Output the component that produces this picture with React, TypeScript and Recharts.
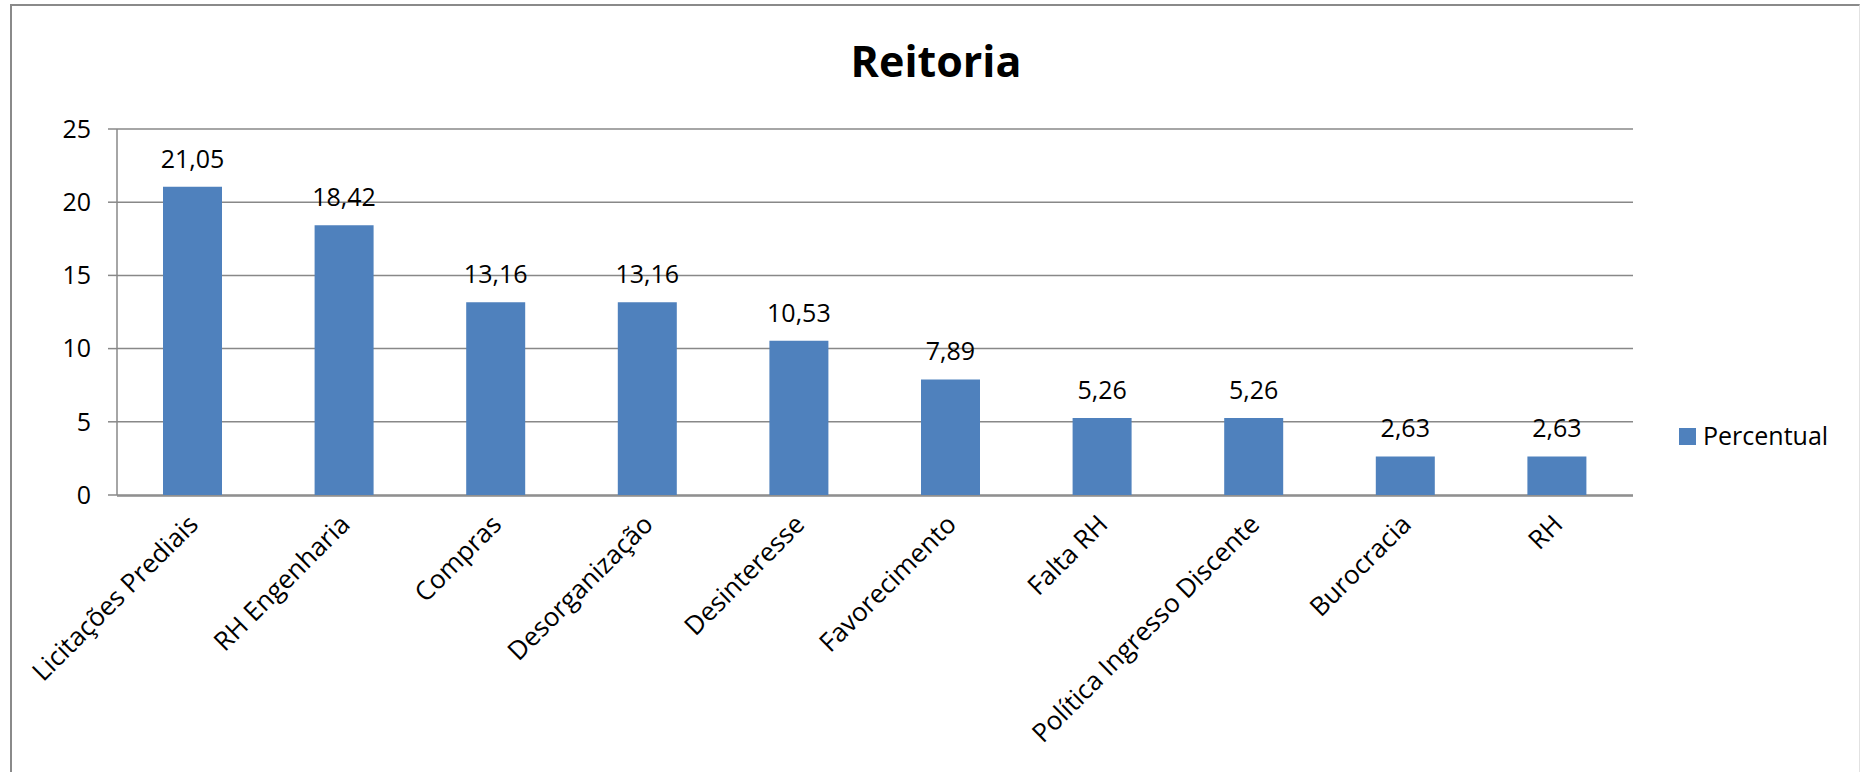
import React from 'react';
import {
  BarChart,
  Bar,
  XAxis,
  YAxis,
  CartesianGrid,
  LabelList,
  Legend,
} from 'recharts';

// chart values
const categories = [
  'Licitações Prediais',
  'RH Engenharia',
  'Compras',
  'Desorganização',
  'Desinteresse',
  'Favorecimento',
  'Falta RH',
  'Política Ingresso Discente',
  'Burocracia',
  'RH',
];
const percentual = [21.05, 18.42, 13.16, 13.16, 10.53, 7.89, 5.26, 5.26, 2.63, 2.63];
const yTicks = [0, 5, 10, 15, 20, 25];
const edgeTicks = [0, 1, 2, 3, 4, 5, 6, 7, 8, 9, 10];

const data = categories.map((name, i) => ({ name, Percentual: percentual[i] }));

const FONT = '"Open Sans", sans-serif';
const GRAY = '#888888';
const BLUE = '#4F81BD';

const fmt = (v: number) => v.toFixed(2).replace('.', ',');

// rotated category label, end anchored just under the axis
const CategoryTick = (props: any) => {
  const { x, y, payload } = props;
  return (
    <g transform={`translate(${x + 7},${y + 31})`}>
      <text
        transform="rotate(-45)"
        textAnchor="end"
        fontFamily={FONT}
        fontSize={26}
        fill="#000"
      >
        {payload.value}
      </text>
    </g>
  );
};

const LegendBox = () => (
  <div style={{ display: 'flex', alignItems: 'flex-start', fontFamily: FONT, fontSize: 25, lineHeight: '25px', color: '#000' }}>
    <span style={{ width: 17, height: 17, background: BLUE, marginTop: 5, marginRight: 7 }} />
    <span>Percentual</span>
  </div>
);

export default function App() {
  return (
    <div style={{ position: 'relative', width: 1860, height: 772, overflow: 'hidden', background: '#fff' }}>
      <style>{`body{margin:0}`}</style>
      {/* chart frame, cut off at the bottom */}
      <div
        style={{
          position: 'absolute',
          left: 10,
          top: 4,
          width: 1847,
          height: 900,
          borderLeft: '2px solid #8a8a8a',
          borderTop: '2px solid #8a8a8a',
          borderRight: '1px solid #e2e2e2',
        }}
      />
      <div
        style={{
          position: 'absolute',
          left: 936,
          top: 39,
          transform: 'translateX(-50%)',
          fontFamily: FONT,
          fontWeight: 700,
          fontSize: 43,
          lineHeight: '43px',
          color: '#000',
          whiteSpace: 'nowrap',
        }}
      >
        Reitoria
      </div>
      <BarChart
        width={1860}
        height={772}
        data={data}
        margin={{ top: 129, right: 227, left: 0, bottom: 275 }}
        style={{ position: 'absolute', left: 0, top: 0 }}
      >
        <CartesianGrid xAxisId="cat" vertical={false} stroke={GRAY} strokeWidth={1.5} />
        <XAxis
          xAxisId="edges"
          type="number"
          domain={[0, 10]}
          ticks={edgeTicks}
          tick={false}
          tickSize={10}
          height={1}
          axisLine={{ stroke: GRAY, strokeWidth: 1.5 }}
          tickLine={{ stroke: GRAY, strokeWidth: 1.5 }}
          allowDataOverflow
        />
        <XAxis
          xAxisId="cat"
          dataKey="name"
          height={1}
          interval={0}
          axisLine={false}
          tickLine={false}
          tickSize={0}
          tickMargin={0}
          tick={<CategoryTick />}
        />
        <YAxis
          width={117}
          domain={[0, 25]}
          ticks={yTicks}
          tickSize={9}
          tickMargin={17}
          axisLine={{ stroke: GRAY, strokeWidth: 1.5 }}
          tickLine={{ stroke: GRAY, strokeWidth: 1.5 }}
          tick={{ fontFamily: FONT, fontSize: 25, fill: '#000' }}
        />
        <Legend
          layout="vertical"
          align="center"
          verticalAlign="middle"
          content={<LegendBox />}
          wrapperStyle={{ left: 1679, top: 423, width: 170 }}
        />
        <Bar xAxisId="cat" dataKey="Percentual" fill={BLUE} barSize={59} isAnimationActive={false}>
          <LabelList
            dataKey="Percentual"
            position="top"
            offset={19}
            formatter={(v: any) => fmt(Number(v))}
            style={{ fontFamily: FONT, fontSize: 25, fill: '#000' }}
          />
        </Bar>
      </BarChart>
    </div>
  );
}
